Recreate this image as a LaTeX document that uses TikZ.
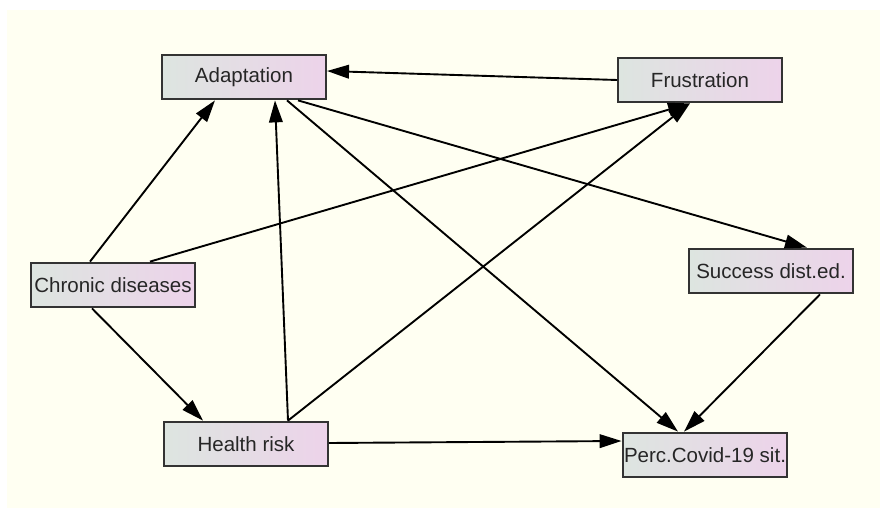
\documentclass[tikz,border=0pt]{standalone}
\usepackage{fontspec}
\setmainfont{Liberation Sans}
\usetikzlibrary{arrows.meta}
\definecolor{bgyellow}{HTML}{FFFFF2}
\definecolor{boxleft}{HTML}{DDE5E0}
\definecolor{boxright}{HTML}{EDD3EA}
\tikzset{
  varbox/.style={draw=black!80, line width=1.4pt, left color=boxleft, right color=boxright,
    minimum width=4.1cm, minimum height=1.12cm, inner sep=1pt,
    font=\fontsize{14.6}{16}\selectfont, text=black!85},
  path/.style={line width=1.35pt, -{Triangle[length=0.55cm,width=0.34cm]}}
}
\begin{document}
\begin{tikzpicture}
  \useasboundingbox (0,0) rectangle (22,12.7);
  \fill[bgyellow] (0.175,0) rectangle (22,12.45);
  % variables
  \node[varbox] (adapt) at (6.1,10.775) {Adaptation};
  \node[varbox] (frust) at (17.5,10.7) {Frustration};
  \node[varbox] (chronic) at (2.825,5.575) {Chronic diseases};
  \node[varbox] (success) at (19.275,5.925) {Success dist.ed.};
  \node[varbox] (health) at (6.15,1.6) {Health risk};
  \node[varbox] (perc) at (17.625,1.325) {Perc.Covid-19 sit.};
  % paths
  \draw[path] ([xshift=-0.575cm]chronic.north) -- ([xshift=-0.725cm]adapt.south);
  \draw[path] ([xshift=0.925cm]chronic.north) -- ([xshift=-0.25cm]frust.south);
  \draw[path] ([xshift=-0.525cm]chronic.south) -- ([xshift=-1.075cm]health.north);
  \draw[path] ([xshift=1.05cm]health.north) -- ([xshift=0.775cm]adapt.south);
  \draw[path] ([xshift=1.05cm]health.north) -- ([xshift=-0.25cm]frust.south);
  \draw[path] ([yshift=0.025cm]health.east) -- ([yshift=0.35cm]perc.west);
  \draw[path] (frust.west) -- ([yshift=0.15cm]adapt.east);
  \draw[path] ([xshift=1.35cm]adapt.south) -- ([xshift=0.9cm]success.north);
  \draw[path] ([xshift=1.075cm]adapt.south) -- ([xshift=-0.675cm]perc.north);
  \draw[path] ([xshift=1.225cm]success.south) -- ([xshift=-0.525cm]perc.north);
\end{tikzpicture}
\end{document}
